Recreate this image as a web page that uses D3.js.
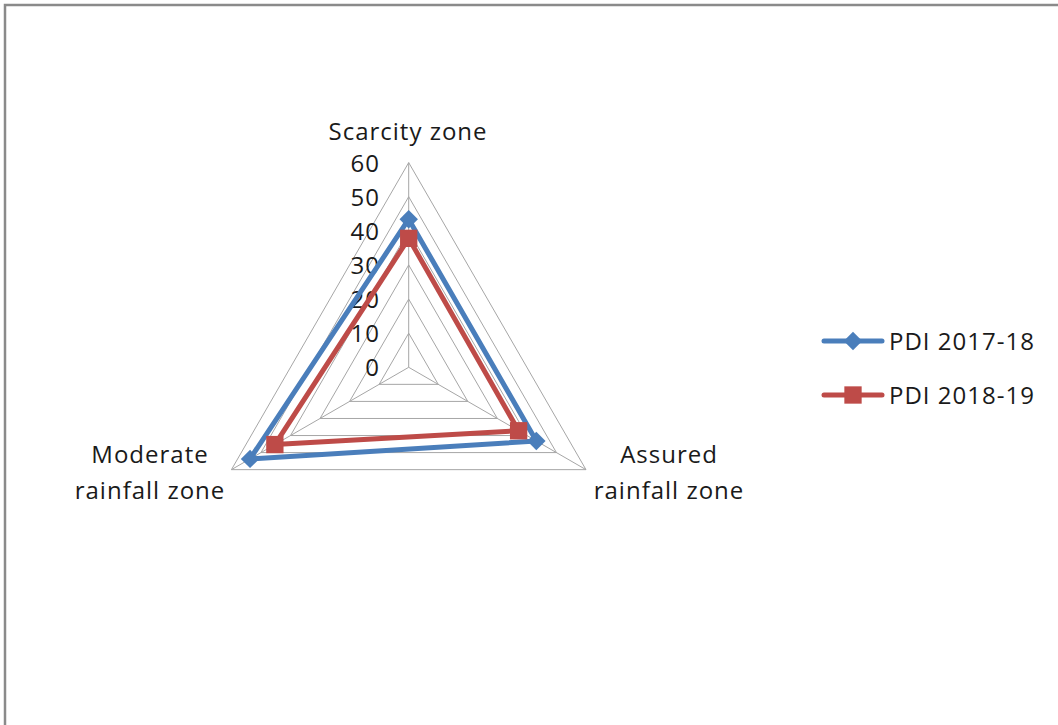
<!DOCTYPE html>
<html>
<head>
<meta charset="utf-8">
<script src="https://cdn.jsdelivr.net/npm/d3@7"></script>
<style>
  html, body { margin: 0; padding: 0; background: #fff; }
  svg { display: block; }
  text { font-family: "Open Sans", Lato, "Liberation Sans", sans-serif; fill: #1a1a1a; letter-spacing: 1px; }
</style>
</head>
<body>
<svg id="chart" width="1058" height="725"></svg>
<script>
// Zones (radar axes), clockwise from the top
const zones = [["Scarcity zone"], ["Assured", "rainfall zone"], ["Moderate", "rainfall zone"]];
const seriesNames = ["PDI 2017-18", "PDI 2018-19"];
const pdi2017 = [43.4, 43.2, 53.7];
const pdi2018 = [37.8, 37.2, 45.3];
const ticks = [0, 10, 20, 30, 40, 50, 60];

const colors = ["#4a7ebb", "#be4b48"];
const fontSize = 24;
const svg = d3.select("#chart");

// outer frame of the chart area
svg.append("path")
  .attr("d", "M5,725 L5,5 L1058,5")
  .attr("fill", "none").attr("stroke", "#8a8a8a").attr("stroke-width", 2.5);

const cx = 408.7, cy = 367.3, R = 204.7;
const r = d3.scaleLinear().domain([0, 60]).range([0, R]);
const angle = d3.scaleLinear().domain([0, zones.length]).range([0, 2 * Math.PI]);
const pt = (i, v) => {
  const a = angle(i);
  return [cx + r(v) * Math.sin(a), cy - r(v) * Math.cos(a)];
};

const g = svg.append("g");

// grid rings
ticks.slice(1).forEach(t => {
  g.append("path")
    .attr("d", d3.line()(zones.map((_, i) => pt(i, t))) + "Z")
    .attr("fill", "none").attr("stroke", "#a6a6a6").attr("stroke-width", 1);
});
// spokes
zones.forEach((_, i) => {
  const p = pt(i, 60);
  g.append("line").attr("x1", cx).attr("y1", cy).attr("x2", p[0]).attr("y2", p[1])
    .attr("stroke", "#a6a6a6").attr("stroke-width", 1);
});

// tick labels along the top axis
g.selectAll("text.tick").data(ticks).join("text")
  .attr("class", "tick")
  .attr("x", 380).attr("y", d => cy - r(d) + 9)
  .attr("text-anchor", "end")
  .attr("font-size", fontSize)
  .text(d => d);

// zone labels
const labelPos = [[408, 140, "middle"], [669, 463, "middle"], [150, 463, "middle"]];
zones.forEach((lines, i) => {
  const t = g.append("text").attr("text-anchor", labelPos[i][2]).attr("font-size", fontSize);
  lines.forEach((s, j) => {
    t.append("tspan").attr("x", labelPos[i][0]).attr("y", labelPos[i][1] + j * 36).text(s);
  });
});

// series markers: diamond (rotated square) and square
const diamond = d3.symbol().type(d3.symbolSquare).size(170);
const square = d3.symbol().type(d3.symbolSquare).size(300);
const symbols = [diamond, square];
const rotations = [45, 0];

const data = [pdi2017, pdi2018];
data.forEach((vals, k) => {
  const pts = vals.map((v, i) => pt(i, v));
  g.append("path")
    .attr("d", d3.line()(pts) + "Z")
    .attr("fill", "none").attr("stroke", colors[k]).attr("stroke-width", 5)
    .attr("stroke-linejoin", "round");
  g.selectAll(null).data(pts).join("path")
    .attr("transform", d => `translate(${d[0]},${d[1]}) rotate(${rotations[k]})`)
    .attr("d", symbols[k]())
    .attr("fill", colors[k]);
});

// legend
const legend = svg.append("g");
seriesNames.forEach((name, k) => {
  const y = 341 + k * 54;
  legend.append("line").attr("x1", 824).attr("x2", 882).attr("y1", y).attr("y2", y)
    .attr("stroke", colors[k]).attr("stroke-width", 5).attr("stroke-linecap", "round");
  legend.append("path").attr("transform", `translate(853,${y}) rotate(${rotations[k]})`)
    .attr("d", symbols[k]()).attr("fill", colors[k]);
  legend.append("text").attr("x", 889).attr("y", y + 9).attr("font-size", fontSize).text(name);
});
</script>
</body>
</html>
